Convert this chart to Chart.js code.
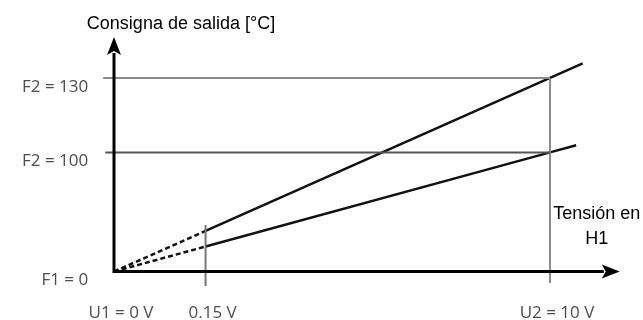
<!DOCTYPE html>
<html>
<head>
<meta charset="utf-8">
<script src="https://cdn.jsdelivr.net/npm/chart.js@4.4.0/dist/chart.umd.min.js"></script>
<style>
  html, body { margin: 0; padding: 0; background: #fff; }
  #wrap { width: 643px; height: 320px; }
</style>
</head>
<body>
<div id="wrap"><canvas id="chart" width="643" height="320"></canvas></div>
<script>
/* Schematic set-point curve: output set-point vs. voltage on H1 (not to scale) */

// tick positions on the schematic axes and their labels
const xTickValues = [0, 2.1, 10];
const xTickLabels = ["U1 = 0 V", "0.15 V", "U2 = 10 V"];
const yTickValues = [0, 80, 130];
const yTickLabels = ["F1 = 0", "F2 = 100", "F2 = 130"];

// the two set-point lines (first segment is dashed)
const upperX = [0, 2.1, 10, 10.75];
const upperY = [0, 27.3, 130, 139.8];
const lowerX = [0, 2.1, 10, 10.6];
const lowerY = [0, 16.8, 80, 84.8];

// grey guide lines
const guide130X = [-0.25, 10];
const guide130Y = [130, 130];
const guide100X = [-0.2, 10];
const guide100Y = [80, 80];
const guideU2X = [10, 10];
const guideU2Y = [-7.7, 130];
const guideLowX = [2.1, 2.1];
const guideLowY = [-9.7, 31.2];

const yTitle = "Consigna de salida [°C]";
const xTitle = ["Tensión en", "H1"];

const X_AXIS_END = 11.6;
const Y_AXIS_END = 157.5;

function pts(xs, ys) {
  return xs.map(function (v, i) { return { x: v, y: ys[i] }; });
}

function guide(xs, ys, color) {
  return {
    data: pts(xs, ys),
    showLine: true,
    borderColor: color,
    borderWidth: 2,
    pointRadius: 0,
  };
}

function curve(xs, ys) {
  return {
    data: pts(xs, ys),
    showLine: true,
    borderColor: "#111",
    borderWidth: 2.5,
    pointRadius: 0,
    segment: {
      borderDash: function (ctx) { return ctx.p0DataIndex === 0 ? [5, 3] : undefined; },
    },
  };
}

const axisArrows = {
  id: "axisArrows",
  afterDatasetsDraw(chart) {
    const ctx = chart.ctx;
    const x = chart.scales.x, y = chart.scales.y;
    const ox = x.getPixelForValue(0), oy = y.getPixelForValue(0);
    const xe = x.getPixelForValue(X_AXIS_END), ye = y.getPixelForValue(Y_AXIS_END);
    const head = 18, half = 7;

    ctx.save();
    ctx.strokeStyle = "#000";
    ctx.fillStyle = "#000";
    ctx.lineWidth = 3;
    ctx.beginPath();
    ctx.moveTo(xe - head + 2, oy);
    ctx.lineTo(ox - 1.5, oy);
    ctx.moveTo(ox, oy + 1.5);
    ctx.lineTo(ox, ye + head - 2);
    ctx.stroke();

    ctx.beginPath();
    ctx.moveTo(xe, oy);
    ctx.lineTo(xe - head, oy - half);
    ctx.lineTo(xe - head + 4, oy);
    ctx.lineTo(xe - head, oy + half);
    ctx.closePath();
    ctx.fill();

    ctx.beginPath();
    ctx.moveTo(ox, ye);
    ctx.lineTo(ox - half, ye + head);
    ctx.lineTo(ox, ye + head - 4);
    ctx.lineTo(ox + half, ye + head);
    ctx.closePath();
    ctx.fill();

    ctx.font = "18px 'Liberation Sans', Arial, sans-serif";
    ctx.textAlign = "center";
    ctx.textBaseline = "middle";
    ctx.fillText(yTitle, ox + 67, ye - 13);
    ctx.fillText(xTitle[0], xe - 23, oy - 58);
    ctx.fillText(xTitle[1], xe - 23, oy - 33);
    ctx.restore();
  }
};

const tickFont = { family: "'Open Sans', sans-serif", size: 17 };

new Chart(document.getElementById("chart"), {
  type: "scatter",
  data: {
    datasets: [
      guide(guide130X, guide130Y, "#8c8c8c"),
      guide(guide100X, guide100Y, "#555"),
      guide(guideU2X, guideU2Y, "#8c8c8c"),
      guide(guideLowX, guideLowY, "#777"),
      curve(upperX, upperY),
      curve(lowerX, lowerY),
    ]
  },
  options: {
    responsive: false,
    animation: false,
    layout: { padding: { top: 33.3, right: 14.5, left: 0, bottom: 0 } },
    plugins: { legend: { display: false }, tooltip: { enabled: false } },
    scales: {
      x: {
        type: "linear",
        min: -0.5,
        max: 11.8,
        grid: { display: false, drawTicks: false },
        border: { display: false },
        afterFit: function (s) { s.height = 30.6; },
        afterBuildTicks: function (s) { s.ticks = xTickValues.map(function (v) { return { value: v }; }); },
        ticks: {
          autoSkip: false,
          maxRotation: 0,
          padding: 14,
          labelOffset: 7,
          color: "#4d4d4d",
          font: tickFont,
          callback: function (v) { return xTickLabels[xTickValues.indexOf(v)]; },
        },
      },
      y: {
        type: "linear",
        min: -12,
        max: 160,
        grid: { display: false, drawTicks: false },
        border: { display: false },
        afterFit: function (s) { s.width = 92.2; },
        afterBuildTicks: function (s) { s.ticks = yTickValues.map(function (v) { return { value: v }; }); },
        ticks: {
          autoSkip: false,
          padding: 4,
          labelOffset: 9,
          color: "#4d4d4d",
          font: tickFont,
          callback: function (v) { return yTickLabels[yTickValues.indexOf(v)]; },
        },
      },
    },
  },
  plugins: [axisArrows],
});
</script>
</body>
</html>
